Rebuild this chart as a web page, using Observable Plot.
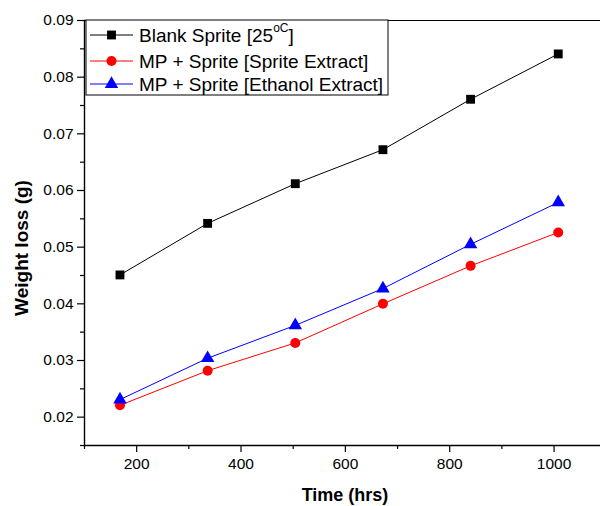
<!DOCTYPE html>
<html>
<head>
<meta charset="utf-8">
<script src="https://cdn.jsdelivr.net/npm/d3@7"></script>
<script src="https://cdn.jsdelivr.net/npm/@observablehq/plot@0.6"></script>
<style>
  html, body { margin: 0; padding: 0; background: #fff; overflow: hidden; }
  svg { display: block; }
</style>
</head>
<body>
<div id="chart"></div>
<script>
const hours = [168, 336, 504, 672, 840, 1008];
const blankSprite = [0.0451, 0.0542, 0.0612, 0.0672, 0.0761, 0.0841];
const spriteExtract = [0.0221, 0.0282, 0.0331, 0.0400, 0.0467, 0.0526];
const ethanolExtract = [0.0231, 0.0304, 0.0362, 0.0427, 0.0505, 0.0579];

const seriesNames = ["Blank Sprite [25", "MP + Sprite [Sprite Extract]", "MP + Sprite [Ethanol Extract]"];
const seriesColors = ["#000000", "#ff0000", "#0000ff"];
const seriesSymbols = ["square", "circle", "triangle"];
const seriesR = [5.0, 5.0, 5.0];

const xMajor = [200, 400, 600, 800, 1000];
const xMinor = [100, 300, 500, 700, 900];
const yMajor = [0.02, 0.03, 0.04, 0.05, 0.06, 0.07, 0.08, 0.09];
const yMinor = [0.015, 0.025, 0.035, 0.045, 0.055, 0.065, 0.075, 0.085];

const allSeries = [blankSprite, spriteExtract, ethanolExtract];
const rows = allSeries.map((vals, s) => hours.map((h, i) => ({h, v: vals[i], s})));

const dataMarks = [];
rows.forEach((data, s) => {
  dataMarks.push(Plot.line(data, {x: "h", y: "v", stroke: seriesColors[s], strokeWidth: 1}));
});
rows.forEach((data, s) => {
  dataMarks.push(Plot.dot(data, {x: "h", y: "v", symbol: () => seriesSymbols[s], r: seriesR[s], fill: seriesColors[s], stroke: "none"}));
});

const chart = Plot.plot({
  width: 600,
  height: 506,
  marginLeft: 84,
  marginRight: 0,
  marginTop: 20,
  marginBottom: 61,
  x: {domain: [100, 1089]},
  y: {domain: [0.015, 0.09]},
  style: {fontFamily: "'Liberation Sans', Arial, sans-serif", fontSize: "15.5px", color: "#000", background: "#fff"},
  marks: [
    Plot.frame({anchor: "top", stroke: "#000", strokeWidth: 1.2}),
    Plot.frame({anchor: "left", stroke: "#000", strokeWidth: 1.4}),
    Plot.frame({anchor: "bottom", stroke: "#000", strokeWidth: 1.4}),
    Plot.axisX({ticks: xMajor, tickSize: 7, tickPadding: 5, tickFormat: d => String(d), label: null, strokeWidth: 1.2}),
    Plot.axisX({ticks: xMinor, tickSize: 4, tickFormat: () => "", label: null, strokeWidth: 1.2}),
    Plot.axisY({ticks: yMajor, tickSize: 7, tickPadding: 4, tickFormat: d => d.toFixed(2), label: null, strokeWidth: 1.2}),
    Plot.axisY({ticks: yMinor, tickSize: 4, tickFormat: () => "", label: null, strokeWidth: 1.2}),
    ...dataMarks
  ]
});

const svg = d3.select(chart);
const font = "'Liberation Sans', Arial, sans-serif";

svg.append("text")
  .attr("x", 345).attr("y", 501)
  .attr("text-anchor", "middle")
  .attr("font-family", font).attr("font-weight", "bold").attr("font-size", 18)
  .attr("fill", "#000")
  .text("Time (hrs)");

svg.append("text")
  .attr("transform", "translate(28,248) rotate(-90)")
  .attr("text-anchor", "middle")
  .attr("font-family", font).attr("font-weight", "bold").attr("font-size", 19)
  .attr("fill", "#000")
  .text("Weight loss (g)");

// Legend
const lg = svg.append("g").attr("text-anchor", "start");
lg.append("rect")
  .attr("x", 86).attr("y", 20).attr("width", 302).attr("height", 75)
  .attr("fill", "#fff").attr("stroke", "#000").attr("stroke-width", 1);
const rowY = [35, 61, 84];
const symMap = {square: d3.symbolSquare, circle: d3.symbolCircle, triangle: d3.symbolTriangle};
seriesNames.forEach((name, s) => {
  const y = rowY[s];
  lg.append("line").attr("x1", 90).attr("x2", 133).attr("y1", y).attr("y2", y)
    .attr("stroke", seriesColors[s]).attr("stroke-width", 1);
  lg.append("path")
    .attr("transform", `translate(111.5,${y})`)
    .attr("d", d3.symbol(symMap[seriesSymbols[s]], Math.PI * seriesR[s] * seriesR[s])())
    .attr("fill", seriesColors[s]);
  const t = lg.append("text")
    .attr("x", 139).attr("y", y + 7)
    .attr("text-anchor", "start")
    .attr("font-family", font).attr("font-size", 19).attr("fill", "#000");
  t.append("tspan").text(name);
  if (s === 0) {
    t.append("tspan").attr("dy", -10).attr("font-size", 12).text("oC");
    t.append("tspan").attr("dy", 10).text("]");
  }
});

document.getElementById("chart").appendChild(chart);
</script>
</body>
</html>
